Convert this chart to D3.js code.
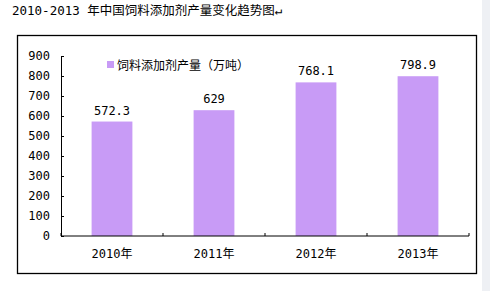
<!DOCTYPE html>
<html><head><meta charset="utf-8">
<script src="https://cdn.jsdelivr.net/npm/d3@7"></script>
<style>html,body{margin:0;padding:0;background:#fff;overflow:hidden}</style>
</head><body>
<svg id="c" width="490" height="291"></svg>
<script>
const categories = ["2010年","2011年","2012年","2013年"];
const values = [572.3, 629, 768.1, 798.9];
const valueLabels = ["572.3","629","768.1","798.9"];
const yTicks = [0,100,200,300,400,500,600,700,800,900];
const seriesName = "饲料添加剂产量（万吨）";
const title = "2010-2013 年中国饲料添加剂产量变化趋势图";

const svg = d3.select("#c");
const mono = "'DejaVu Sans Mono','Noto Sans CJK SC',monospace";
const barColor = "#c89bf6";

// right side strip
svg.append("rect").attr("x",482).attr("y",0).attr("width",8).attr("height",291).attr("fill","#eef0f4");

svg.append("text").attr("x",12).attr("y",15).attr("font-family",mono).attr("font-size",12.5)
  .attr("fill","#000").text(title + "↵");

// frame
svg.append("rect").attr("x",17.5).attr("y",35.5).attr("width",459).attr("height",238)
  .attr("fill","#fff").attr("stroke","#000").attr("stroke-width",1.3);

const x = d3.scaleBand().domain(categories).range([61,469]).paddingInner(0.6).paddingOuter(0.3);
const y = d3.scaleLinear().domain([0,900]).range([236,56]);

const g = svg.append("g");
g.selectAll("rect.bar").data(values).join("rect").attr("class","bar")
  .attr("x",(d,i)=>x(categories[i])).attr("width",x.bandwidth())
  .attr("y",d=>y(d)).attr("height",d=>y(0)-y(d)).attr("fill",barColor);

g.selectAll("text.lbl").data(values).join("text").attr("class","lbl")
  .attr("x",(d,i)=>x(categories[i])+x.bandwidth()/2).attr("y",d=>y(d)-7)
  .attr("text-anchor","middle").attr("font-family",mono).attr("font-size",12).attr("fill","#000")
  .text((d,i)=>valueLabels[i]);

// y axis
const ya = svg.append("g").attr("transform","translate(61,0)")
  .call(d3.axisLeft(y).tickValues(yTicks).tickSizeInner(-3).tickSizeOuter(0).tickPadding(11));
ya.select(".domain").attr("stroke","#000");
ya.selectAll("line").attr("stroke","#000");
ya.selectAll("text").attr("font-family",mono).attr("font-size",12).attr("fill","#000");

// x axis
const xa = svg.append("g").attr("transform","translate(0,236)");
xa.append("line").attr("x1",61).attr("x2",469).attr("y1",0).attr("y2",0).attr("stroke","#000");
const step = x.step();
const edges = d3.range(categories.length+1).map(i=>61 + i*(408/categories.length));
xa.selectAll("line.tk").data(edges).join("line").attr("class","tk")
  .attr("x1",d=>d).attr("x2",d=>d).attr("y1",0).attr("y2",-3).attr("stroke","#000");
xa.selectAll("text").data(categories).join("text")
  .attr("x",d=>x(d)+x.bandwidth()/2).attr("y",22).attr("text-anchor","middle")
  .attr("font-family",mono).attr("font-size",12).attr("fill","#000").text(d=>d);

// legend
svg.append("rect").attr("x",107).attr("y",61).attr("width",7).attr("height",7).attr("fill",barColor);
svg.append("text").attr("x",117).attr("y",69.5).attr("font-family",mono).attr("font-size",12)
  .attr("fill","#000").text(seriesName);
</script>
</body></html>
